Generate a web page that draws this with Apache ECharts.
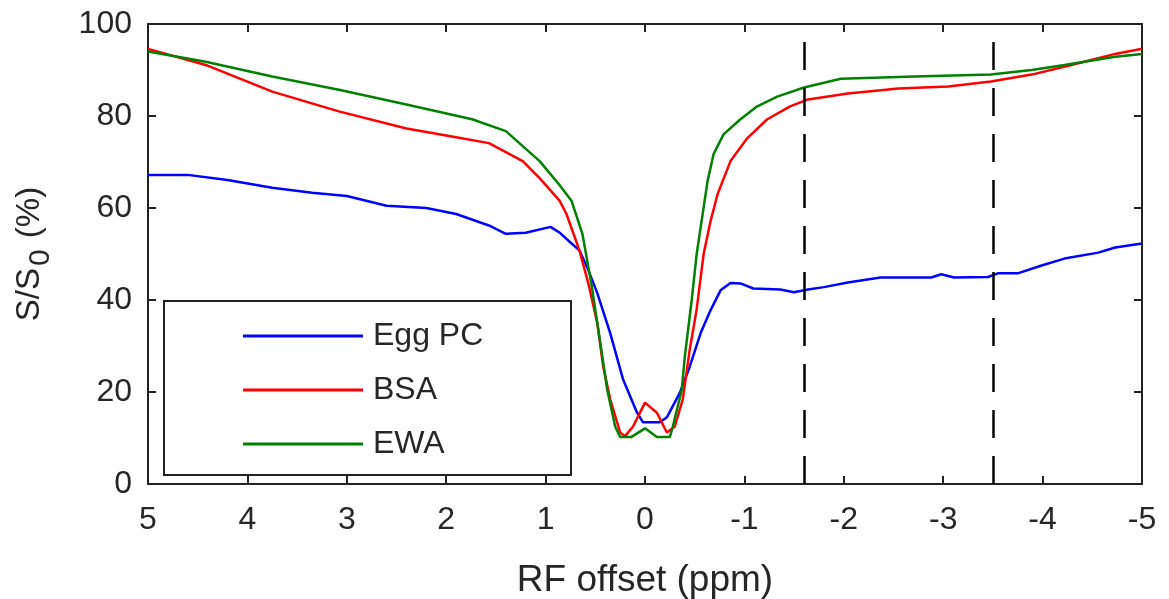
<!DOCTYPE html>
<html>
<head>
<meta charset="utf-8">
<script src="https://cdn.jsdelivr.net/npm/echarts@6/dist/echarts.min.js"></script>
<style>
  html, body { margin: 0; padding: 0; background: #fff; }
  #chart { width: 1169px; height: 599px; }
</style>
</head>
<body>
<div id="chart"></div>
<script>
// RF offset (ppm) and S/S0 (%) per sample
const eggPcPpm = [5, 4.6, 4.2, 3.75, 3.35, 3.0, 2.6, 2.2, 1.9, 1.57, 1.4, 1.2, 0.95, 0.85, 0.75, 0.66, 0.57, 0.48, 0.35, 0.22, 0.08, 0.02, -0.15, -0.22, -0.35, -0.45, -0.56, -0.66, -0.76, -0.86, -0.96, -1.09, -1.36, -1.5, -1.64, -1.8, -2.04, -2.37, -2.88, -2.98, -3.11, -3.45, -3.55, -3.75, -3.99, -4.22, -4.56, -4.73, -5]
const eggPcVals = [67.2, 67.2, 66.1, 64.4, 63.3, 62.6, 60.5, 60.0, 58.7, 56.2, 54.4, 54.6, 55.9, 54.5, 52.5, 50.8, 46.5, 41.5, 32.8, 22.7, 15.5, 13.4, 13.4, 14.5, 19.8, 25.5, 32.8, 37.8, 42.1, 43.7, 43.6, 42.5, 42.3, 41.7, 42.3, 42.8, 43.8, 44.9, 44.9, 45.6, 44.9, 45.0, 45.8, 45.8, 47.5, 49.0, 50.3, 51.4, 52.3]

const bsaPpm = [5, 4.42, 3.75, 3.08, 2.4, 1.9, 1.57, 1.23, 1.06, 0.86, 0.79, 0.66, 0.57, 0.48, 0.42, 0.35, 0.25, 0.2, 0.12, 0.0, -0.12, -0.22, -0.3, -0.38, -0.45, -0.52, -0.59, -0.66, -0.73, -0.86, -1.03, -1.23, -1.46, -1.64, -2.04, -2.55, -3.05, -3.48, -3.89, -4.29, -4.73, -5]
const bsaVals = [94.6, 91.1, 85.3, 81.0, 77.3, 75.4, 74.1, 70.2, 66.5, 61.6, 58.7, 50.8, 43.6, 35.0, 25.5, 18.4, 11.2, 10.4, 12.5, 17.7, 15.5, 11.2, 12.5, 18.4, 29.2, 38.0, 50.0, 57.2, 63.0, 70.2, 75.2, 79.3, 82.1, 83.6, 84.9, 86.0, 86.4, 87.5, 89.0, 91.1, 93.5, 94.6]

const ewaPpm = [5, 4.42, 3.75, 3.08, 2.4, 1.74, 1.4, 1.06, 0.86, 0.74, 0.63, 0.54, 0.45, 0.38, 0.3, 0.25, 0.14, 0.0, -0.12, -0.25, -0.28, -0.37, -0.4, -0.47, -0.52, -0.58, -0.63, -0.69, -0.79, -0.96, -1.13, -1.33, -1.6, -1.97, -2.71, -3.48, -3.89, -4.22, -4.73, -5]
const ewaVals = [94.0, 91.8, 88.6, 85.7, 82.5, 79.3, 76.7, 70.2, 65.0, 61.6, 54.4, 43.6, 30.7, 20.5, 12.5, 10.2, 10.2, 12.1, 10.2, 10.2, 12.5, 20.5, 27.6, 40.0, 50.0, 58.7, 65.9, 71.7, 76.0, 79.3, 82.1, 84.2, 86.2, 88.1, 88.6, 89.0, 90.0, 91.1, 92.9, 93.5]

const markerPpm = [-1.6, -3.5]
const seriesNames = ['Egg PC', 'BSA', 'EWA']
const seriesColors = ['#0000ff', '#ff0000', '#008000']

const zip = (xs, ys) => xs.map((x, i) => [x, ys[i]])
const seriesData = [zip(eggPcPpm, eggPcVals), zip(bsaPpm, bsaVals), zip(ewaPpm, ewaVals)]

const FONT = '"Liberation Sans", Arial, sans-serif'
const TEXT_COLOR = '#262626'
const AXIS_COLOR = '#222'

const xBase = {
    type: 'value',
    min: -5,
    max: 5,
    interval: 1,
    inverse: true,
    axisLine: { onZero: false, lineStyle: { color: AXIS_COLOR, width: 2 } },
    axisTick: { inside: true, length: 8, lineStyle: { color: AXIS_COLOR, width: 2 } },
    splitLine: { show: false },
}
const yBase = {
    type: 'value',
    min: 0,
    max: 100,
    interval: 20,
    axisLine: { show: true, onZero: false, lineStyle: { color: AXIS_COLOR, width: 2 } },
    axisTick: { show: true, inside: true, length: 8, lineStyle: { color: AXIS_COLOR, width: 2 } },
    splitLine: { show: false },
}

const chart = echarts.init(document.getElementById('chart'), null, { renderer: 'canvas' })
chart.setOption({
    animation: false,
    backgroundColor: '#fff',
    grid: { left: 148, right: 27, top: 24, bottom: 115, outerBoundsMode: 'none', containLabel: false },
    xAxis: [
        {
            ...xBase,
            position: 'bottom',
            axisLabel: { color: TEXT_COLOR, fontFamily: FONT, fontSize: 32, margin: 20 },
            name: 'RF offset (ppm)',
            nameLocation: 'middle',
            nameGap: 78,
            nameTextStyle: { color: TEXT_COLOR, fontFamily: FONT, fontSize: 37 },
        },
        { ...xBase, position: 'top', axisLabel: { show: false } },
    ],
    yAxis: [
        {
            ...yBase,
            position: 'left',
            axisLabel: { color: TEXT_COLOR, fontFamily: FONT, fontSize: 32, margin: 16 },
            name: '{a|S/S}{s|0}{a| (%)}',
            nameLocation: 'middle',
            nameGap: 92,
            nameTextStyle: {
                rich: {
                    a: { color: TEXT_COLOR, fontFamily: FONT, fontSize: 33 },
                    s: { color: TEXT_COLOR, fontFamily: FONT, fontSize: 30, padding: [22, 2, 0, 2] },
                },
            },
        },
        { ...yBase, position: 'right', axisLabel: { show: false } },
    ],
    legend: {
        left: 243,
        top: 320,
        padding: 0,
        orient: 'vertical',
        icon: 'rect',
        itemWidth: 120,
        itemHeight: 3,
        itemGap: 22,
        data: seriesNames,
        textStyle: { color: TEXT_COLOR, fontFamily: FONT, fontSize: 32, padding: [0, 0, 0, 5] },
    },
    graphic: [
        {
            type: 'rect',
            left: 163,
            top: 300,
            shape: { width: 407, height: 174 },
            style: { fill: 'rgba(0,0,0,0)', stroke: AXIS_COLOR, lineWidth: 2 },
            z: 1,
        },
    ],
    series: seriesData.map((data, i) => ({
        name: seriesNames[i],
        type: 'line',
        data,
        symbol: 'none',
        color: seriesColors[i],
        lineStyle: { width: 2.5, color: seriesColors[i] },
        z: 3,
        markLine: i === 0 ? {
            silent: true,
            symbol: 'none',
            label: { show: false },
            lineStyle: { color: '#000', type: [28, 18], width: 2.5 },
            data: markerPpm.map((x) => ({ xAxis: x })),
        } : undefined,
    })),
})
</script>
</body>
</html>
